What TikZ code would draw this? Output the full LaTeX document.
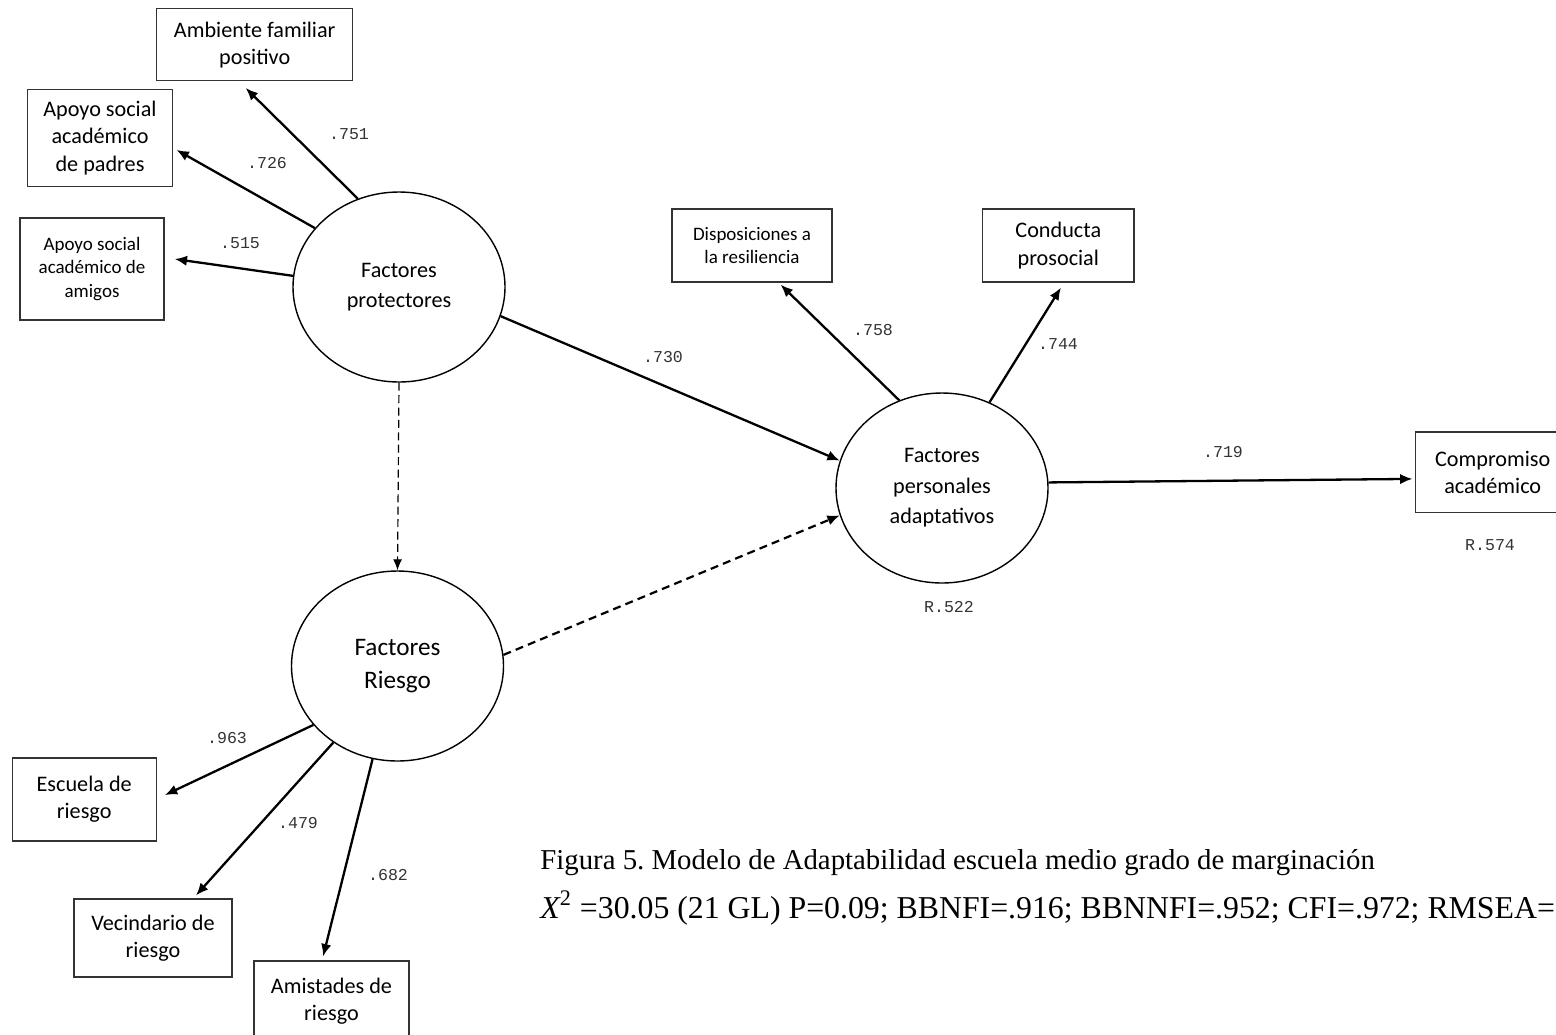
\documentclass[tikz,border=0pt]{standalone}
\usepackage{fontspec}
\setmainfont{Carlito}
\newfontfamily\numfont{Liberation Mono}
\newfontfamily\capfont{Liberation Serif}
\usetikzlibrary{shapes.geometric}
\usetikzlibrary{arrows.meta}
\frenchspacing

\begin{document}
\begin{tikzpicture}[x=0.5pt, y=-0.5pt,
  obs/.style={draw=black!80, line width=0.6pt, align=center, inner sep=0pt,
    font=\fontsize{11.1}{13.6}\selectfont},
  obssmall/.style={obs, font=\fontsize{9.5}{11.6}\selectfont},
  lat/.style={draw, ellipse, line width=0.7pt, minimum width=106pt,
    minimum height=95pt, inner sep=0pt, align=center,
    font=\fontsize{11.1}{15.2}\selectfont},
  path/.style={-{Latex[length=6.2pt,width=5.2pt]}, line width=1.15pt},
  coef/.style={font=\numfont\fontsize{8.3}{10}\selectfont, text=black!80, inner sep=0pt},
  caption/.style={anchor=base west, inner sep=0pt, font=\capfont\fontsize{14.4}{17}\selectfont}]
\useasboundingbox (0,0) rectangle (1556,1034);

% latent factors
\node[lat] (fp) at (399,287) {Factores\\protectores};
\node[lat, font=\fontsize{12.6}{16.6}\selectfont] (fr) at (397.5,666) {Factores\\Riesgo};
\node[lat] (fpa) at (942,488) {Factores\\personales\\adaptativos};

% indicators
\node[obs, minimum width=98pt, minimum height=36pt] (amb) at (254.7,44.8) {Ambiente familiar\\positivo};
\node[obs, minimum width=72.3pt, minimum height=48.8pt] (padres) at (100,137.9) {Apoyo social\\acad\'emico\\de padres};
\node[obssmall, minimum width=72pt, minimum height=51pt] (amigos) at (92,269) {Apoyo social\\acad\'emico de\\amigos};
\node[obssmall, minimum width=80pt, minimum height=36.5pt] (disp) at (752,245.5) {Disposiciones a\\la resiliencia};
\node[obs, minimum width=75.7pt, minimum height=36.5pt] (cond) at (1058.3,245.5) {Conducta\\prosocial};
\node[obs, minimum width=77pt, minimum height=40.3pt] (comp) at (1492.7,472.3) {Compromiso\\acad\'emico};
\node[obs, minimum width=72pt, minimum height=41.5pt] (esc) at (84.2,799.5) {Escuela de\\riesgo};
\node[obs, minimum width=79pt, minimum height=39pt] (vec) at (153,938) {Vecindario de\\riesgo};
\node[obs, minimum width=77.5pt, minimum height=40pt] (amis) at (331.5,1001) {Amistades de\\riesgo};

% paths
\draw[path] (fp.115) -- ([xshift=-4.5pt,yshift=-3.3pt]amb.south);
\draw[path] (fp.145) -- ([xshift=1.8pt,yshift=-6pt]padres.east);
\draw[path] (fp.174) -- ([xshift=5pt,yshift=5pt]amigos.east);
\draw[-{Latex[length=5.5pt,width=4.5pt]}, line width=0.6pt, dash pattern=on 4pt off 2.2pt] (fp.south) -- (fr.north);
\draw[path] (fp.344) -- (fpa.165);
\draw[path, line width=1.1pt, dash pattern=on 4pt off 2.6pt] (fr.6) -- (fpa.195);
\draw[path] (fpa.116) -- ([xshift=14.3pt,yshift=-1pt]disp.south);
\draw[path] (fpa.61) -- ([xshift=1.3pt,yshift=-2.5pt]cond.south);
\draw[path] (fpa.3) -- ([xshift=-1.3pt,yshift=-3.3pt]comp.west);
\draw[path] (fr.215) -- ([xshift=4pt,yshift=2.2pt]esc.east);
\draw[path] (fr.230) -- ([xshift=21.5pt,yshift=1.5pt]vec.north);
\draw[path] (fr.255) -- ([xshift=-4.2pt,yshift=2pt]amis.north);

% coefficients
\node[coef] (c751) at (349,134) {.751};
\node[coef] (c726) at (267,163) {.726};
\node[coef] (c515) at (240,243) {.515};
\node[coef] (c730) at (663,357) {.730};
\node[coef] (c758) at (873,330) {.758};
\node[coef] (c744) at (1058,344) {.744};
\node[coef] (c719) at (1223,452) {.719};
\node[coef] (r522) at (949,607) {R.522};
\node[coef] (r574) at (1490,545) {R.574};
\node[coef] (c963) at (227,738) {.963};
\node[coef] (c479) at (298,823) {.479};
\node[coef] (c682) at (388,875) {.682};

% caption
\node[caption] (cap1) at (540,869) {Figura 5. Modelo de Adaptabilidad escuela medio grado de marginaci\'on};
\node[caption, font=\capfont\fontsize{15.9}{18}\selectfont] (cap2) at (540,918) {{\itshape X}\textsuperscript{2} =30.05 (21 GL) P=0.09; BBNFI=.916; BBNNFI=.952; CFI=.972; RMSEA=};
\end{tikzpicture}
\end{document}
